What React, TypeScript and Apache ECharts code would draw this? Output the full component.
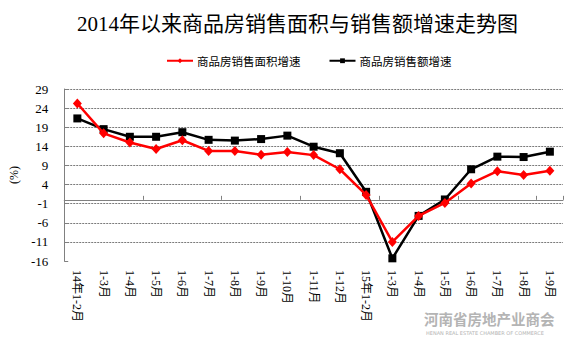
import React, { useEffect, useRef } from "react";
import * as echarts from "echarts";

const categories = [
  "14年1-2月", "1-3月", "1-4月", "1-5月", "1-6月", "1-7月", "1-8月", "1-9月", "1-10月",
  "1-11月", "1-12月", "15年1-2月", "1-3月", "1-4月", "1-5月", "1-6月", "1-7月", "1-8月", "1-9月",
];
const areaGrowth = [25.2, 17.4, 15.0, 13.3, 15.6, 12.8, 12.8, 11.8, 12.5, 11.7, 8.0, 1.3, -11.0, -4.2, -0.8, 4.3, 7.5, 6.5, 7.6];
const amountGrowth = [21.3, 18.5, 16.5, 16.5, 17.7, 15.7, 15.5, 15.9, 16.8, 13.9, 12.2, 2.1, -15.3, -4.2, 0.1, 8.0, 11.3, 11.2, 12.6];
const seriesNames = ["商品房销售面积增速", "商品房销售额增速"];
const titleText = "2014年以来商品房销售面积与销售额增速走势图";
const yMin = -16;
const yMax = 29;
const yStep = 5;

const serif = "'Liberation Serif','Noto Sans CJK SC'";
const cjk = "'Noto Sans CJK SC'";

export default function App() {
  const ref = useRef<HTMLDivElement>(null);
  useEffect(() => {
    document.body.style.margin = "0";
    const chart = echarts.init(ref.current!, null, { renderer: "svg" });
    chart.setOption({
      animation: false,
      backgroundColor: "#fff",
      title: {
        text: titleText,
        left: 72,
        top: 8,
        textStyle: { fontFamily: serif, fontSize: 21, fontWeight: "normal", color: "#000" },
      },
      legend: {
        top: 50,
        left: 161,
        itemWidth: 26,
        itemHeight: 6,
        itemGap: 28,
        textStyle: { fontFamily: cjk, fontSize: 11.5, color: "#000", padding: [0, 0, 0, -1] },
        data: seriesNames,
      },
      grid: { left: 50, right: 23, top: 89, bottom: 100 },
      xAxis: [
        {
          type: "category",
          data: categories,
          position: "bottom",
          axisLine: { show: false, onZero: false },
          axisTick: { show: false },
          axisLabel: {
            interval: 0,
            rotate: -90,
            margin: 9,
            fontFamily: serif,
            fontSize: 12,
            color: "#000",
          },
        },
        {
          type: "category",
          data: categories,
          position: "bottom",
          axisLine: { show: true, onZero: true, lineStyle: { color: "#808080", width: 1 } },
          axisTick: { show: true, inside: true, length: 4, lineStyle: { color: "#808080" } },
          axisLabel: { show: false },
          splitLine: { show: false },
        },
      ],
      yAxis: {
        type: "value",
        min: yMin,
        max: yMax,
        interval: yStep,
        name: "(%)",
        nameLocation: "middle",
        nameRotate: 90,
        nameGap: 31,
        nameTextStyle: { fontFamily: serif, fontSize: 12, color: "#000" },
        axisLine: { show: true, lineStyle: { color: "#808080" } },
        axisTick: { show: true, inside: true, length: 4, lineStyle: { color: "#808080" } },
        axisLabel: { fontFamily: serif, fontSize: 13, color: "#000", margin: 16 },
        splitLine: {
          show: true,
          lineStyle: {
            type: [2, 1],
            color: ["rgba(0,0,0,0)", "#7a7a7a", "#7a7a7a", "#7a7a7a", "#7a7a7a", "#7a7a7a", "#7a7a7a", "#7a7a7a", "#7a7a7a", "#7a7a7a"],
            width: 1,
          },
        },
      },
      series: [
        {
          name: seriesNames[0],
          type: "line",
          xAxisIndex: 0,
          data: areaGrowth,
          symbol: "diamond",
          symbolSize: [9, 10],
          itemStyle: { color: "#ff0000" },
          lineStyle: { color: "#ff0000", width: 2.5 },
          z: 3,
        },
        {
          name: seriesNames[1],
          type: "line",
          xAxisIndex: 0,
          data: amountGrowth,
          symbol: "rect",
          symbolSize: 8,
          itemStyle: { color: "#000" },
          lineStyle: { color: "#000", width: 2.5 },
          z: 2,
        },
      ],
      graphic: [
        {
          type: "text",
          left: 424,
          top: 311,
          style: {
            text: "河南省房地产业商会",
            fontFamily: cjk,
            fontSize: 14.5,
            fontWeight: "bold",
            fill: "#b4b4b4",
          },
        },
        {
          type: "text",
          left: 426,
          top: 330,
          style: {
            text: "HENAN REAL ESTATE CHAMBER OF COMMERCE",
            fontFamily: "'DejaVu Sans'",
            fontSize: 5,
            fill: "#b4b4b4",
          },
        },
      ],
    });
    return () => chart.dispose();
  }, []);
  return <div ref={ref} style={{ width: 586, height: 361 }} />;
}
